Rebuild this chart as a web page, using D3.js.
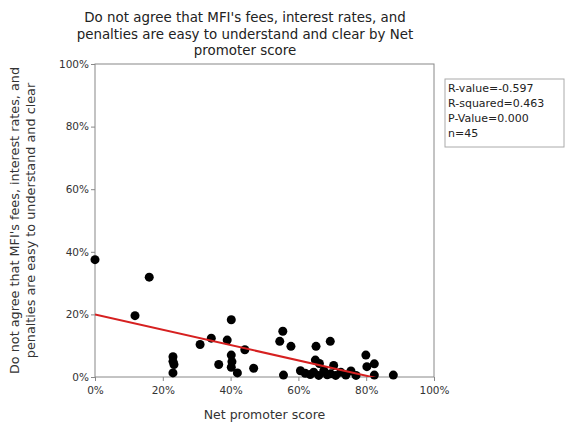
<!DOCTYPE html>
<html>
<head>
<meta charset="utf-8">
<script src="https://cdn.jsdelivr.net/npm/d3@7"></script>
<style>
  body { margin: 0; background: #fff; }
  text { font-family: "DejaVu Sans", sans-serif; }
</style>
</head>
<body>
<div id="chart"></div>
<script>
// Net promoter score (%) for each MFI
const npsX = [0, 11.8, 16, 23, 23, 23.3, 23, 31, 34.3, 36.5, 39, 40.2, 40.2, 40.4, 40.2, 42,
  44.2, 46.8, 54.5, 55.4, 57.8, 55.6, 60.6, 65.2, 69.4, 65, 66.2, 70.4, 75.5, 79.9, 80.2,
  82.4, 82.4, 88, 62, 63.5, 64.5, 66, 67.5, 68.5, 69.5, 71, 72.5, 74, 77];
// share (%) who do not agree fees/rates/penalties are easy to understand
const disagreeY = [37.5, 19.6, 31.9, 6.5, 5.0, 4.0, 1.3, 10.4, 12.4, 4.0, 11.8, 18.3, 7.0, 4.9, 3.1, 1.3,
  8.7, 2.8, 11.4, 14.6, 9.8, 0.6, 2.0, 9.8, 11.4, 5.4, 4.3, 3.7, 1.9, 7.0, 3.3,
  4.2, 0.6, 0.6, 1.2, 0.8, 1.5, 0.5, 2.0, 0.7, 1.0, 0.5, 1.5, 0.6, 0.5];

const fitIntercept = 20.0;
const fitSlope = -0.245;

const xTicks = [0, 20, 40, 60, 80, 100];
const yTicks = [0, 20, 40, 60, 80, 100];
const statLines = ["R-value=-0.597", "R-squared=0.463", "P-Value=0.000", "n=45"];

const titleLines = ["Do not agree that MFI's fees, interest rates, and",
  "penalties are easy to understand and clear by Net", "promoter score"];
const yLabelLines = ["Do not agree that MFI's fees, interest rates, and",
  "penalties are easy to understand and clear"];

const W = 566, H = 428;
const plot = { left: 95, right: 434, top: 64, bottom: 377 };

const svg = d3.select("#chart").append("svg")
  .attr("width", W)
  .attr("height", H);

const x = d3.scaleLinear().domain([0, 100]).range([plot.left, plot.right]);
const y = d3.scaleLinear().domain([0, 100]).range([plot.bottom, plot.top]);

// title
svg.append("text")
  .attr("x", 245)
  .attr("y", 22)
  .attr("text-anchor", "middle")
  .attr("font-size", 13.4)
  .attr("fill", "#222")
  .selectAll("tspan")
  .data(titleLines)
  .enter().append("tspan")
  .attr("x", 245)
  .attr("dy", (d, i) => i === 0 ? 0 : 16.5)
  .text(d => d);

// axes
const xAxis = svg.append("g")
  .attr("transform", `translate(0,${plot.bottom})`)
  .call(d3.axisBottom(x).tickValues(xTicks).tickSize(4).tickSizeOuter(0).tickFormat(d => d + "%"));
const yAxis = svg.append("g")
  .attr("transform", `translate(${plot.left},0)`)
  .call(d3.axisLeft(y).tickValues(yTicks).tickSize(4).tickSizeOuter(0).tickFormat(d => d + "%"));

[xAxis, yAxis].forEach(g => {
  g.select(".domain").remove();
  g.selectAll(".tick line").attr("stroke", "#888");
  g.selectAll(".tick text")
    .attr("font-size", 10.5)
    .attr("fill", "#333")
    .attr("font-family", "DejaVu Sans, sans-serif");
});
xAxis.selectAll(".tick text").attr("dy", "1em").attr("y", 6);
yAxis.selectAll(".tick text").attr("x", -6);

// frame
svg.append("rect")
  .attr("x", plot.left)
  .attr("y", plot.top)
  .attr("width", plot.right - plot.left)
  .attr("height", plot.bottom - plot.top)
  .attr("fill", "none")
  .attr("stroke", "#888")
  .attr("stroke-width", 1);

svg.append("defs").append("clipPath")
  .attr("id", "plot-clip")
  .append("rect")
  .attr("x", plot.left)
  .attr("y", plot.top)
  .attr("width", plot.right - plot.left)
  .attr("height", plot.bottom - plot.top);

// points
const pts = npsX.map((v, i) => ({ x: v, y: disagreeY[i] }));
svg.append("g")
  .selectAll("circle")
  .data(pts)
  .enter().append("circle")
  .attr("cx", d => x(d.x))
  .attr("cy", d => y(d.y))
  .attr("r", 4.5)
  .attr("fill", "#000");

// regression line
const xMin = d3.min(npsX), xMax = d3.max(npsX);
const fit = [xMin, xMax].map(v => ({ x: v, y: fitIntercept + fitSlope * v }));
svg.append("path")
  .datum(fit)
  .attr("clip-path", "url(#plot-clip)")
  .attr("d", d3.line().x(d => x(d.x)).y(d => y(d.y)))
  .attr("stroke", "#d62020")
  .attr("stroke-width", 2)
  .attr("fill", "none");

// axis labels
svg.append("text")
  .attr("x", (plot.left + plot.right) / 2)
  .attr("y", 419)
  .attr("text-anchor", "middle")
  .attr("font-size", 12.5)
  .attr("fill", "#333")
  .text("Net promoter score");

const yl = svg.append("text")
  .attr("transform", `translate(19,${(plot.top + plot.bottom) / 2}) rotate(-90)`)
  .attr("text-anchor", "middle")
  .attr("font-size", 12.8)
  .attr("fill", "#333");
yl.selectAll("tspan")
  .data(yLabelLines)
  .enter().append("tspan")
  .attr("x", 0)
  .attr("dy", (d, i) => i === 0 ? 0 : 15.5)
  .text(d => d);

// stats box
const box = svg.append("g").attr("transform", "translate(445,79)");
box.append("rect")
  .attr("width", 119)
  .attr("height", 68)
  .attr("fill", "#fff")
  .attr("stroke", "#aaa");
box.selectAll("text")
  .data(statLines)
  .enter().append("text")
  .attr("x", 3)
  .attr("y", (d, i) => 13 + i * 15)
  .attr("font-size", 11)
  .attr("fill", "#222")
  .text(d => d);
</script>
</body>
</html>
